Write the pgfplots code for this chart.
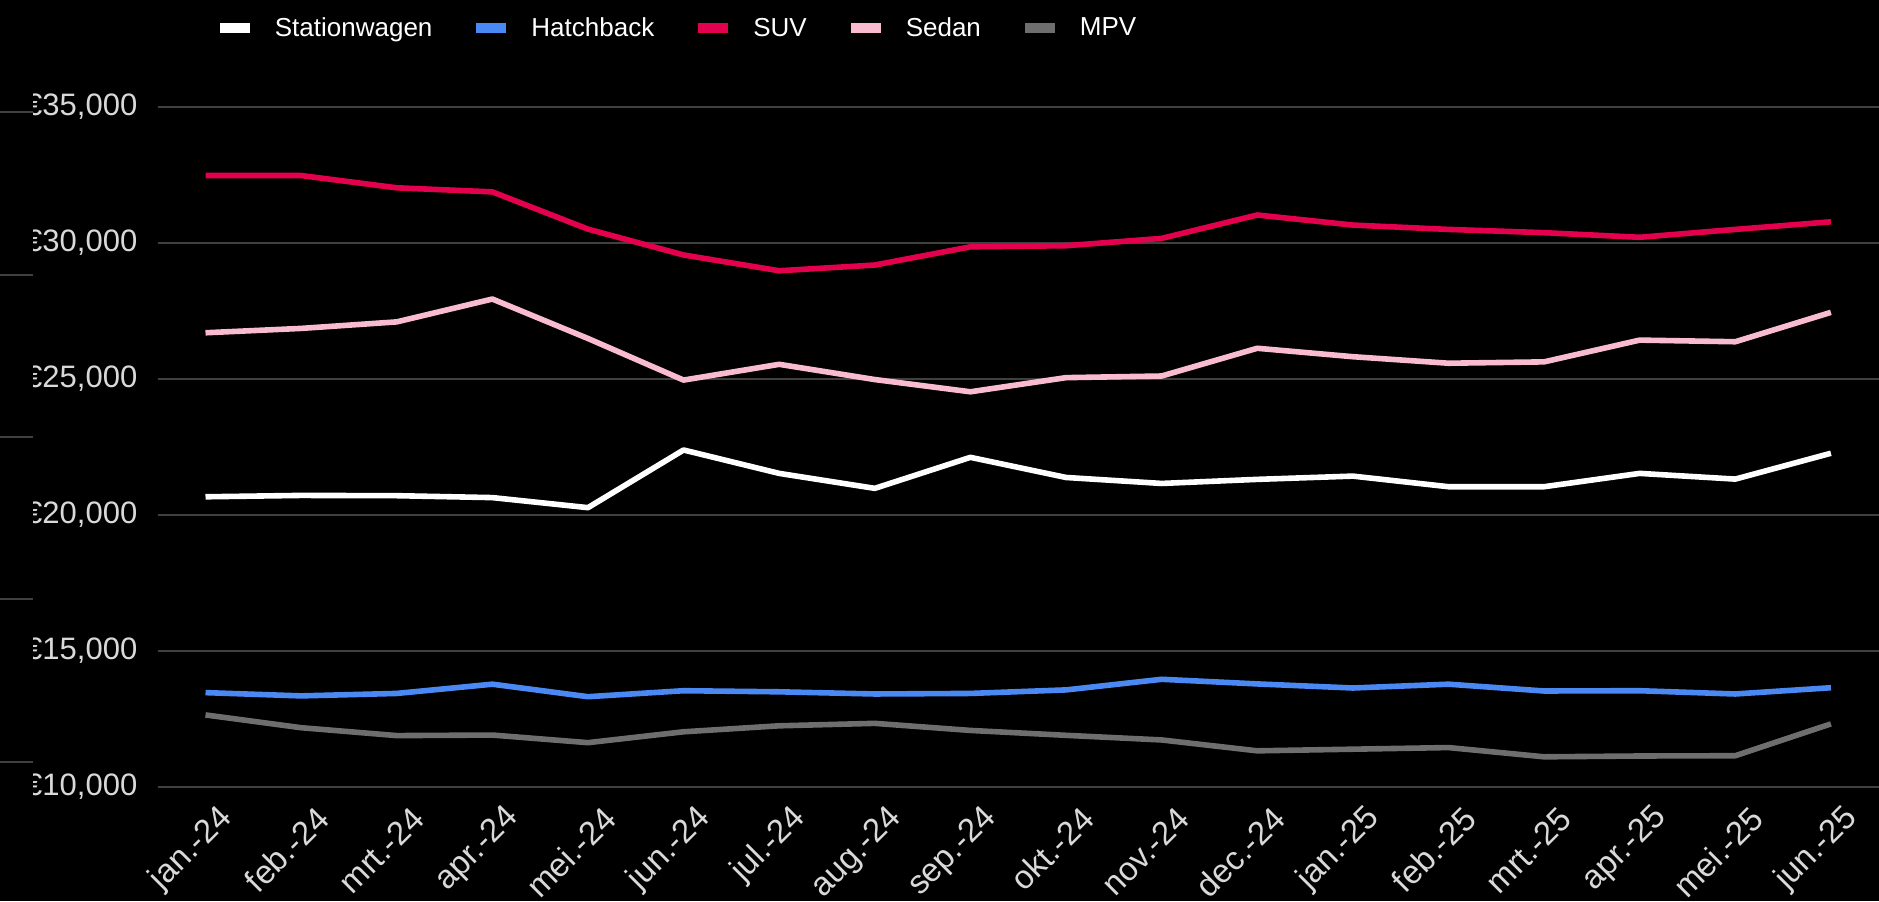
\documentclass[border=0pt]{standalone}
\usepackage{pgfplots}
\usepackage{pgfplotstable}
\pgfplotsset{compat=1.18}
\usepackage{fontspec}
\setmainfont{Liberation Sans}

\definecolor{swcol}{HTML}{FFFFFF}
\definecolor{hbcol}{HTML}{4A89F3}
\definecolor{suvcol}{HTML}{E3004F}
\definecolor{sedcol}{HTML}{F8BBD0}
\definecolor{mpvcol}{HTML}{6E6E6E}
\definecolor{gridgray}{HTML}{404040}
\definecolor{labelgray}{HTML}{D9D9D9}

% average price per body type, jan-24 .. jun-25
\pgfplotstableread{
idx sw    hb    suv   sedan mpv
0   20670 13470 32480 26700 12650
1   20720 13350 32480 26860 12180
2   20710 13440 32030 27100 11890
3   20640 13780 31880 27940 11910
4   20270 13320 30510 26490 11630
5   22390 13540 29560 24960 12030
6   21530 13500 28980 25540 12250
7   20980 13420 29190 24980 12340
8   22120 13440 29860 24530 12080
9   21380 13570 29900 25050 11900
10  21160 13960 30170 25110 11730
11  21310 13790 31030 26130 11330
12  21430 13640 30660 25820 11390
13  21040 13780 30500 25580 11450
14  21040 13530 30380 25630 11110
15  21530 13540 30210 26430 11140
16  21320 13420 30500 26370 11150
17  22270 13650 30780 27450 12320
}\bodytypes

\begin{document}
\begin{tikzpicture}
\fill[black] (0,0) rectangle (939.5pt,450.5pt);
\useasboundingbox (0,0) rectangle (939.5pt,450.5pt);
% bits of another chart showing at the left edge
\foreach \y in {112,275,437,599,762}
  \draw[gridgray, line width=1pt] (0,{(901-\y)*0.5pt}) -- (16.5pt,{(901-\y)*0.5pt});
\begin{scope}
\clip (16.5pt,0) rectangle (939.5pt,450.5pt);
\begin{axis}[
    at={(78.85pt,57pt)}, anchor=south west,
    scale only axis,
    width=860.5pt, height=340pt,
    xmin=-0.5, xmax=17.5,
    ymin=10000, ymax=35000,
    scaled y ticks=false,
    axis line style={draw=none},
    major tick length=0pt,
    ymajorgrids,
    grid style={gridgray, line width=1pt},
    xtick={0,...,17},
    xticklabels={jan.-24,feb.-24,mrt.-24,apr.-24,mei.-24,jun.-24,jul.-24,aug.-24,sep.-24,okt.-24,nov.-24,dec.-24,jan.-25,feb.-25,mrt.-25,apr.-25,mei.-25,jun.-25},
    ytick={10000,15000,20000,25000,30000,35000},
    yticklabels={{€10,000},{€15,000},{€20,000},{€25,000},{€30,000},{€35,000}},
    tick label style={text=labelgray, font=\fontsize{15.5}{18}\selectfont},
    yticklabel style={anchor=east, inner sep=0pt, xshift=-10pt},
    xticklabel style={font=\fontsize{16.5}{19}\selectfont, xshift=11pt, yshift=-13pt, rotate=45, anchor=east, inner sep=0pt},
    legend columns=5,
    legend image code/.code={\fill[#1, draw=none] (0pt,-2.5pt) rectangle (15pt,2.5pt);},
    legend style={at={(0.0359,1.1155)}, anchor=west, draw=none, fill=none,
        inner sep=0pt, text=white, font=\fontsize{13}{15}\selectfont,
        nodes={inner sep=0pt},
        /tikz/every odd column/.append style={column sep=12.5pt},
        /tikz/every even column/.append style={column sep=22pt}},
    every axis plot/.append style={line width=2.8pt, line join=round},
]
\addplot[swcol] table[x=idx, y=sw] {\bodytypes};
\addlegendentry{Stationwagen}
\addplot[hbcol] table[x=idx, y=hb] {\bodytypes};
\addlegendentry{Hatchback}
\addplot[suvcol] table[x=idx, y=suv] {\bodytypes};
\addlegendentry{SUV}
\addplot[sedcol] table[x=idx, y=sedan] {\bodytypes};
\addlegendentry{Sedan}
\addplot[mpvcol] table[x=idx, y=mpv] {\bodytypes};
\addlegendentry{MPV}
\end{axis}
\end{scope}
\end{tikzpicture}
\end{document}
